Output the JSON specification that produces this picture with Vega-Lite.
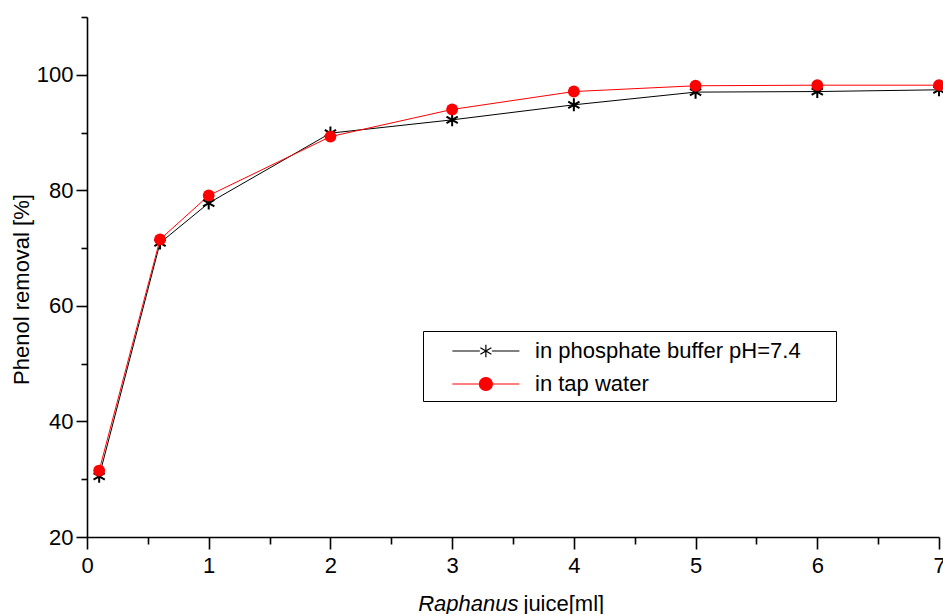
{
  "$schema": "https://vega.github.io/schema/vega-lite/v6.json",
  "width": 852,
  "height": 520,
  "autosize": {"type": "none"},
  "padding": {"left": 87, "top": 17, "right": 4, "bottom": 77},
  "background": "white",
  "config": {
    "view": {"stroke": null},
    "axis": {
      "labelFont": "Liberation Sans",
      "labelFontSize": 22,
      "labelColor": "black",
      "titleFont": "Liberation Sans",
      "titleFontSize": 22,
      "titleFontWeight": "normal",
      "titleColor": "black",
      "domainColor": "black",
      "tickColor": "black",
      "domainWidth": 1.6,
      "tickWidth": 1.6,
      "grid": false,
      "labelOverlap": false,
      "labelFlush": false
    }
  },
  "data": {
    "values": [
      {"x": 0.1, "y": 30.5, "series": "in phosphate buffer pH=7.4"},
      {"x": 0.6, "y": 70.9, "series": "in phosphate buffer pH=7.4"},
      {"x": 1, "y": 77.8, "series": "in phosphate buffer pH=7.4"},
      {"x": 2, "y": 89.9, "series": "in phosphate buffer pH=7.4"},
      {"x": 3, "y": 92.2, "series": "in phosphate buffer pH=7.4"},
      {"x": 4, "y": 94.8, "series": "in phosphate buffer pH=7.4"},
      {"x": 5, "y": 97.0, "series": "in phosphate buffer pH=7.4"},
      {"x": 6, "y": 97.1, "series": "in phosphate buffer pH=7.4"},
      {"x": 7, "y": 97.4, "series": "in phosphate buffer pH=7.4"},
      {"x": 0.1, "y": 31.5, "series": "in tap water"},
      {"x": 0.6, "y": 71.5, "series": "in tap water"},
      {"x": 1, "y": 79.1, "series": "in tap water"},
      {"x": 2, "y": 89.3, "series": "in tap water"},
      {"x": 3, "y": 94.0, "series": "in tap water"},
      {"x": 4, "y": 97.1, "series": "in tap water"},
      {"x": 5, "y": 98.1, "series": "in tap water"},
      {"x": 6, "y": 98.2, "series": "in tap water"},
      {"x": 7, "y": 98.2, "series": "in tap water"}
    ]
  },
  "layer": [
    {
      "mark": {"type": "line", "strokeWidth": 1},
      "encoding": {
        "x": {
          "field": "x", "type": "quantitative",
          "scale": {"domain": [0, 7], "nice": false, "zero": false},
          "axis": {
            "orient": "bottom",
            "values": [0, 1, 2, 3, 4, 5, 6, 7],
            "tickSize": 12,
            "labelPadding": 6,
            "title": "juice[ml]",
            "titleX": 436,
            "titleY": 73,
            "titleAlign": "left",
            "titleBaseline": "alphabetic"
          }
        },
        "y": {
          "field": "y", "type": "quantitative",
          "scale": {"domain": [20, 110], "nice": false, "zero": false},
          "axis": {
            "orient": "left",
            "values": [20, 40, 60, 80, 100],
            "tickSize": 11,
            "labelPadding": 3,
            "title": "Phenol removal [%]",
            "titleX": -66,
            "titleY": 272,
            "titleAlign": "center",
            "titleBaseline": "middle",
            "titleAngle": 270
          }
        },
        "color": {
          "field": "series", "type": "nominal",
          "scale": {"domain": ["in phosphate buffer pH=7.4", "in tap water"], "range": ["black", "red"]},
          "legend": {
            "orient": "none",
            "legendX": 336,
            "legendY": 314,
            "title": null,
            "labelFont": "Liberation Sans",
            "labelFontSize": 22,
            "labelColor": "black",
            "labelLimit": 600,
            "labelOffset": 78,
            "symbolType": "M0.7,0H5.7M28.7,0",
            "symbolSize": 718,
            "symbolStrokeWidth": 1.2,
            "rowPadding": 8,
            "padding": 6,
            "strokeColor": "black",
            "fillColor": "white",
            "encode": {
              "symbols": {
                "update": {
                  "shape": [
                    {"test": "datum.value === 'in tap water'", "value": "M0.7,0H5.7M3.685,0A0.485,0.485 0 1,0 2.715,0A0.485,0.485 0 1,0 3.685,0ZM28.7,0"},
                    {"value": "M0.7,0H2.75M3.65,0H5.7M3.2,-0.47V0.47M2.79,-0.235L3.61,0.235M2.79,0.235L3.61,-0.235M28.7,0"}
                  ],
                  "fill": [
                    {"test": "datum.value === 'in tap water'", "value": "red"},
                    {"value": "transparent"}
                  ],
                  "stroke": [
                    {"test": "datum.value === 'in tap water'", "value": "red"},
                    {"value": "black"}
                  ],
                  "opacity": {"value": 1},
                  "fillOpacity": {"value": 1},
                  "strokeOpacity": {"value": 1}
                }
              }
            }
          }
        }
      }
    },
    {
      "transform": [{"filter": "datum.series === 'in phosphate buffer pH=7.4'"}],
      "mark": {
        "type": "point",
        "shape": "M0,-1V1M-0.866,-0.5L0.866,0.5M-0.866,0.5L0.866,-0.5",
        "filled": false,
        "stroke": "black",
        "strokeWidth": 2,
        "size": 170,
        "opacity": 1
      },
      "encoding": {
        "x": {
          "field": "x", "type": "quantitative",
          "axis": {
            "orient": "bottom",
            "values": [0.5, 1.5, 2.5, 3.5, 4.5, 5.5, 6.5],
            "tickSize": 7,
            "labels": false,
            "domain": false,
            "title": "Raphanus",
            "titleFontStyle": "italic",
            "titleX": 431,
            "titleY": 73,
            "titleAlign": "right",
            "titleBaseline": "alphabetic"
          }
        },
        "y": {
          "field": "y", "type": "quantitative",
          "axis": {
            "orient": "left",
            "values": [30, 50, 70, 90, 110],
            "tickSize": 6,
            "labels": false,
            "domain": false,
            "title": null
          }
        }
      }
    },
    {
      "transform": [{"filter": "datum.series === 'in tap water'"}],
      "mark": {"type": "point", "shape": "circle", "filled": true, "color": "red", "size": 140, "opacity": 1},
      "encoding": {
        "x": {"field": "x", "type": "quantitative", "axis": null},
        "y": {"field": "y", "type": "quantitative", "axis": null}
      }
    }
  ],
  "resolve": {"axis": {"x": "independent", "y": "independent"}}
}
